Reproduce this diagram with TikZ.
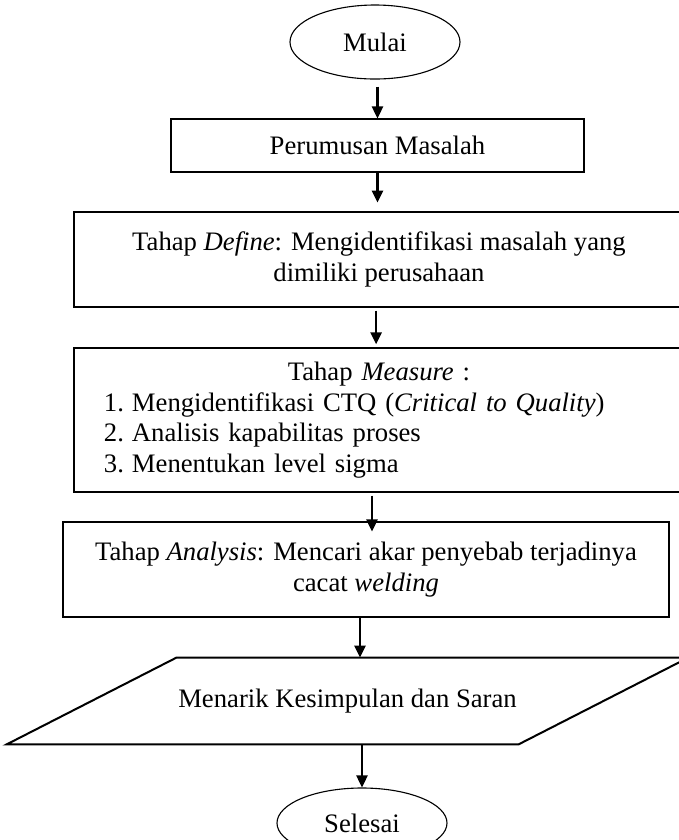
\documentclass[tikz,border=0pt]{standalone}
\usepackage{fontspec}
\setmainfont{Liberation Serif}
\usetikzlibrary{shapes.geometric,arrows.meta,positioning}

\begin{document}
\begin{tikzpicture}[
    x=0.45pt, y=-0.45pt,
    every node/.style={font=\fontsize{12}{13.8}\selectfont},
    term/.style={draw, ellipse, inner sep=0pt, line width=0.5pt,
                 minimum width=76.5pt},
    proc/.style={draw, rectangle, inner sep=0pt, line width=0.5pt,
                 align=center},
    io/.style={rectangle, inner sep=0pt, minimum width=153.45pt,
               minimum height=38.7pt},
    slant/.style={line width=0.9pt, line join=miter},
    arr/.style={-{Triangle[length=5.4pt,width=5pt]}, line width=1pt},
  ]
  \useasboundingbox (0,0) rectangle (679,840);

  \node[term, minimum height=33.3pt] (mulai) at (375,42) {Mulai};
  \node[proc, minimum width=185.85pt, minimum height=23.85pt] (rumus)
    at (377.5,145.5) {Perumusan Masalah};
  \node[proc, minimum width=274.5pt, minimum height=42.75pt] (define)
    at (379,259.5)
    {Tahap \textit{Define}: Mengidentifikasi masalah yang\\dimiliki perusahaan};
  \node[proc, text width=274.5pt, minimum height=64.8pt, align=left] (measure)
    at (379,420)
    {\makebox[\hsize]{Tahap \textit{Measure} :}\\
     \hspace*{13.5pt}\makebox[12.6pt][l]{1.}Mengidentifikasi CTQ (\textit{Critical to Quality})\\
     \hspace*{13.5pt}\makebox[12.6pt][l]{2.}Analisis kapabilitas proses\\
     \hspace*{13.5pt}\makebox[12.6pt][l]{3.}Menentukan level sigma};
  \node[proc, minimum width=272.7pt, minimum height=42.75pt] (analysis)
    at (366,569.5)
    {Tahap \textit{Analysis}: Mencari akar penyebab terjadinya\\cacat \textit{welding}};
  \node[io] (simpul) at (347.5,701) {Menarik Kesimpulan dan Saran};
  \draw[slant] ([xshift=-76.5pt]simpul.south west) -- (simpul.south east)
    -- ([xshift=76.5pt]simpul.north east) -- (simpul.north west) -- cycle;
  \node[term, minimum height=31.5pt] (selesai) at (362,823) {Selesai};

  \draw[arr, shorten <=3.2pt] (mulai.south -| rumus.north) -- (rumus.north);
  \draw[arr, shorten >=4pt] (rumus.south) -- (rumus.south |- define.north);
  \draw[arr, shorten <=1.4pt, shorten >=1.4pt] ([xshift=-1.3pt]define.south)
    -- ([xshift=-1.3pt]define.south |- measure.north);
  \draw[arr, shorten <=1.4pt, shorten >=-4.5pt] ([xshift=-3.15pt]measure.south)
    -- ([xshift=-3.15pt]measure.south |- analysis.north);
  \draw[arr] ([xshift=-2.7pt]analysis.south)
    -- ([xshift=-2.7pt]analysis.south |- simpul.north);
  \draw[arr] (selesai.north |- simpul.south) -- (selesai.north);

\end{tikzpicture}
\end{document}
